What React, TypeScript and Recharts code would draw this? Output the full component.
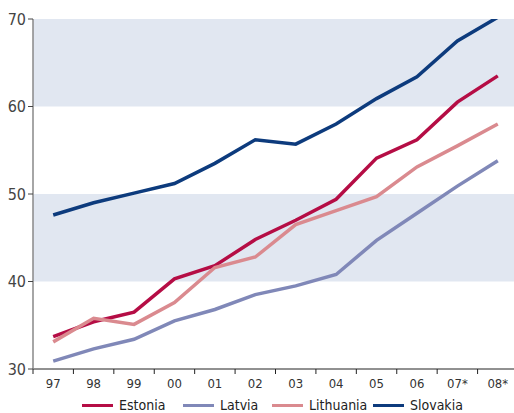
import React from 'react';
import { LineChart, Line, XAxis, YAxis, ReferenceArea, Legend } from 'recharts';

// Year labels along the x axis
const years = ['97', '98', '99', '00', '01', '02', '03', '04', '05', '06', '07*', '08*'];

// Series values per year
const estonia = [33.7, 35.4, 36.5, 40.3, 41.8, 44.8, 47.0, 49.4, 54.1, 56.2, 60.5, 63.5];
const latvia = [30.9, 32.3, 33.4, 35.5, 36.8, 38.5, 39.5, 40.8, 44.7, 47.8, 50.9, 53.8];
const lithuania = [33.1, 35.8, 35.1, 37.6, 41.6, 42.8, 46.5, 48.1, 49.7, 53.1, 55.5, 58.0];
const slovakia = [47.6, 49.0, 50.1, 51.2, 53.5, 56.2, 55.7, 58.0, 60.9, 63.4, 67.5, 70.2];

// Y axis ticks and shaded horizontal bands
const yTicks = [30, 40, 50, 60, 70];
const bands: [number, number][] = [[40, 50], [60, 70]];

const seriesList = [
  { key: 'Estonia', values: estonia, color: '#b50d45' },
  { key: 'Latvia', values: latvia, color: '#8088b8' },
  { key: 'Lithuania', values: lithuania, color: '#da8a8f' },
  { key: 'Slovakia', values: slovakia, color: '#0d3b7d' },
];

const data = years.map((label, i) => {
  const row: Record<string, number | string> = { idx: i, label };
  seriesList.forEach((s) => {
    row[s.key] = s.values[i];
  });
  return row;
});

const labelTicks = years.map((_, i) => i);
const boundaryTicks = [...years.map((_, i) => i - 0.5), years.length - 0.5];

const FONT = '"Liberation Sans Narrow", "DejaVu Sans Condensed", "DejaVu Sans", sans-serif';

const legendLefts = [82, 183, 272, 373];

const LegendContent = () => (
  <div style={{ position: 'relative', height: 16, width: 520, fontFamily: FONT, fontSize: 14, color: '#222' }}>
    {seriesList.map((s, i) => (
      <div
        key={s.key}
        style={{ position: 'absolute', left: legendLefts[i], top: 0, height: 16, display: 'flex', alignItems: 'center' }}
      >
        <span style={{ display: 'inline-block', width: 31, height: 3, background: s.color, marginRight: 6 }} />
        <span style={{ lineHeight: '16px', whiteSpace: 'nowrap' }}>{s.key}</span>
      </div>
    ))}
  </div>
);

export default function App() {
  return (
    <div style={{ position: 'absolute', left: 0, top: 0, width: 514, height: 413, overflow: 'hidden', background: '#fff' }}>
      <LineChart width={520} height={413} data={data} margin={{ top: 19, right: 2, left: 0, bottom: 0 }}>
        <XAxis
          xAxisId="bounds"
          type="number"
          dataKey="idx"
          domain={[-0.5, years.length - 0.5]}
          ticks={boundaryTicks}
          tickFormatter={() => ''}
          height={1}
          tickSize={5}
          stroke="#222"
          axisLine={{ stroke: '#222', strokeWidth: 1 }}
          tickLine={{ stroke: '#222', strokeWidth: 1 }}
          interval={0}
          allowDataOverflow
        />
        <XAxis
          xAxisId="labels"
          type="number"
          dataKey="idx"
          domain={[-0.5, years.length - 0.5]}
          ticks={labelTicks}
          tickFormatter={(v: number) => years[v] ?? ''}
          height={27}
          axisLine={false}
          tickLine={false}
          tickMargin={3}
          tick={{ fill: '#333', fontSize: 13, fontFamily: FONT }}
          interval={0}
          allowDataOverflow
        />
        <YAxis
          type="number"
          domain={[30, 70]}
          ticks={yTicks}
          width={33}
          tickSize={5}
          tickMargin={2}
          axisLine={{ stroke: '#888', strokeWidth: 1.5 }}
          tickLine={{ stroke: '#444' }}
          tick={{ fill: '#444', fontSize: 16, fontFamily: FONT }}
          allowDataOverflow
        />
        {bands.map(([lo, hi]) => (
          <ReferenceArea
            key={lo}
            xAxisId="labels"
            y1={lo}
            y2={hi}
            fill="#e1e7f1"
            fillOpacity={1}
            stroke="none"
            ifOverflow="hidden"
          />
        ))}
        <Legend verticalAlign="bottom" align="left" height={16} content={LegendContent} wrapperStyle={{ left: 0, width: 520 }} />
        {seriesList.map((s) => (
          <Line
            key={s.key}
            xAxisId="labels"
            type="linear"
            dataKey={s.key}
            stroke={s.color}
            strokeWidth={3.5}
            dot={false}
            activeDot={false}
            isAnimationActive={false}
          />
        ))}
      </LineChart>
    </div>
  );
}
